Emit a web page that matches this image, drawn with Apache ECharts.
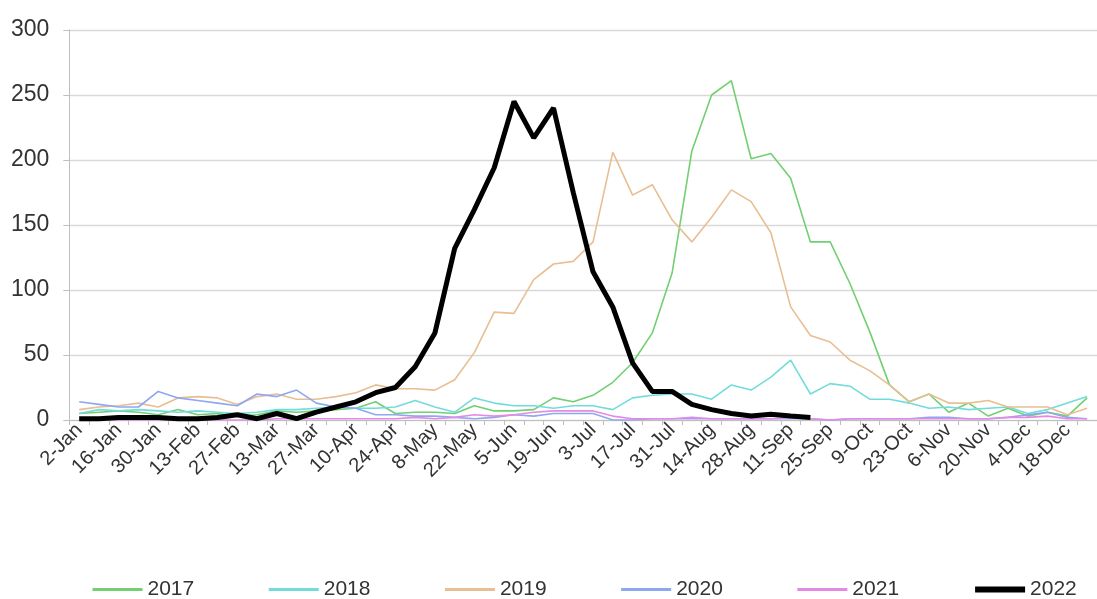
<!DOCTYPE html>
<html>
<head>
<meta charset="utf-8">
<script src="https://cdn.jsdelivr.net/npm/echarts@6/dist/echarts.min.js"></script>
<style>
html,body{margin:0;padding:0;background:#fff;}
#chart{width:1097px;height:599px;}
</style>
</head>
<body>
<div id="chart"></div>
<script>
const weeks = ['2-Jan','9-Jan','16-Jan','23-Jan','30-Jan','6-Feb','13-Feb','20-Feb','27-Feb','6-Mar','13-Mar','20-Mar','27-Mar','3-Apr','10-Apr','17-Apr','24-Apr','1-May','8-May','15-May','22-May','29-May','5-Jun','12-Jun','19-Jun','26-Jun','3-Jul','10-Jul','17-Jul','24-Jul','31-Jul','7-Aug','14-Aug','21-Aug','28-Aug','4-Sep','11-Sep','18-Sep','25-Sep','2-Oct','9-Oct','16-Oct','23-Oct','30-Oct','6-Nov','13-Nov','20-Nov','27-Nov','4-Dec','11-Dec','18-Dec','25-Dec'];

const y2017 = [5,6,7,6,4,8,4,5,3,4,7,6,7,8,9,14,5,6,6,5,11,7,7,8,17,14,19,29,44,67,113,207,250,261,201,205,186,137,137,105,68,27,14,20,6,13,3,9,3,6,3,17];
const y2018 = [5,8,7,8,7,6,7,6,5,6,8,8,9,10,9,9,10,15,10,6,17,13,11,11,9,11,11,8,17,19,20,20,16,27,23,33,46,20,28,26,16,16,13,9,10,8,9,10,5,8,13,18];
const y2019 = [8,10,11,13,10,17,18,17,12,18,20,16,16,18,21,27,24,24,23,31,52,83,82,108,120,122,137,206,173,181,154,137,156,177,168,144,87,65,60,46,38,27,14,20,13,13,15,10,10,10,4,9];
const y2020 = [14,12,10,10,22,17,15,13,11,20,18,23,13,10,9,4,4,3,3,2,1,2,4,3,5,5,5,0,0,1,1,1,1,1,1,1,1,1,0,1,1,1,1,2,2,1,1,2,4,6,2,1];
const y2021 = [0,0,0,0,0,0,0,0,0,0,1,1,1,1,1,1,1,2,1,2,4,3,4,6,7,7,7,3,1,1,1,2,1,1,1,1,2,1,0,1,1,1,1,1,1,1,1,2,2,3,1,1];
const y2022 = [1,1,2,2,2,1,1,2,4,1,5,1,6,10,14,21,25,41,67,132,162,194,245,217,240,175,114,87,44,22,22,12,8,5,3,4.5,3,2,null,null,null,null,null,null,null,null,null,null,null,null,null,null];

const seriesNames = ['2017','2018','2019','2020','2021','2022'];
const seriesData = [y2017,y2018,y2019,y2020,y2021,y2022];
const colors = ['#72CF72','#72DCDC','#E8BE93','#8EA7F0','#E48AE4','#000000'];
const widths = [1.6,1.6,1.6,1.6,1.6,5];
const legendWidths = [3,3,3,3,3,6];

const chart = echarts.init(document.getElementById('chart'), null, {renderer:'canvas'});
const font = 'Liberation Sans, Arial, sans-serif';

chart.setOption({
  animation:false,
  backgroundColor:'#ffffff',
  color: colors,
  grid:{left:69.3, right:-12, top:30, bottom:179, containLabel:false},
  legend:{
    data: seriesNames.map((n,k)=>({name:n, lineStyle:{width:legendWidths[k], color:colors[k]}})),
    left: 86,
    top: 574,
    itemWidth: 50,
    itemHeight: 14,
    itemGap: 73,
    itemStyle:{opacity:0},
    textStyle:{fontFamily:font, fontSize:21, color:'#333333'}
  },
  xAxis:{
    type:'category',
    data: weeks,
    boundaryGap:true,
    axisLine:{lineStyle:{color:'#BFBFBF', width:1}},
    axisTick:{show:true, interval:0, length:5, lineStyle:{color:'#BFBFBF'}},
    axisLabel:{interval:1, rotate:45, margin:7, fontFamily:font, fontSize:20, color:'#333333'},
    splitLine:{show:false}
  },
  yAxis:{
    type:'value',
    min:0, max:300, interval:50,
    axisLine:{show:true, lineStyle:{color:'#BFBFBF', width:1}},
    axisTick:{show:true, length:6, lineStyle:{color:'#BFBFBF'}},
    axisLabel:{margin:20, fontFamily:font, fontSize:23, color:'#333333'},
    splitLine:{show:true, lineStyle:{color:'#D9D9D9', width:1.3}}
  },
  series: seriesNames.map((n,k)=>({
    name:n,
    type:'line',
    data: seriesData[k],
    symbol:'none',
    smooth:false,
    connectNulls:false,
    z: k===5 ? 10 : 2+k,
    lineStyle:{color:colors[k], width:widths[k]},
    itemStyle:{color:colors[k]}
  }))
});
</script>
</body>
</html>
